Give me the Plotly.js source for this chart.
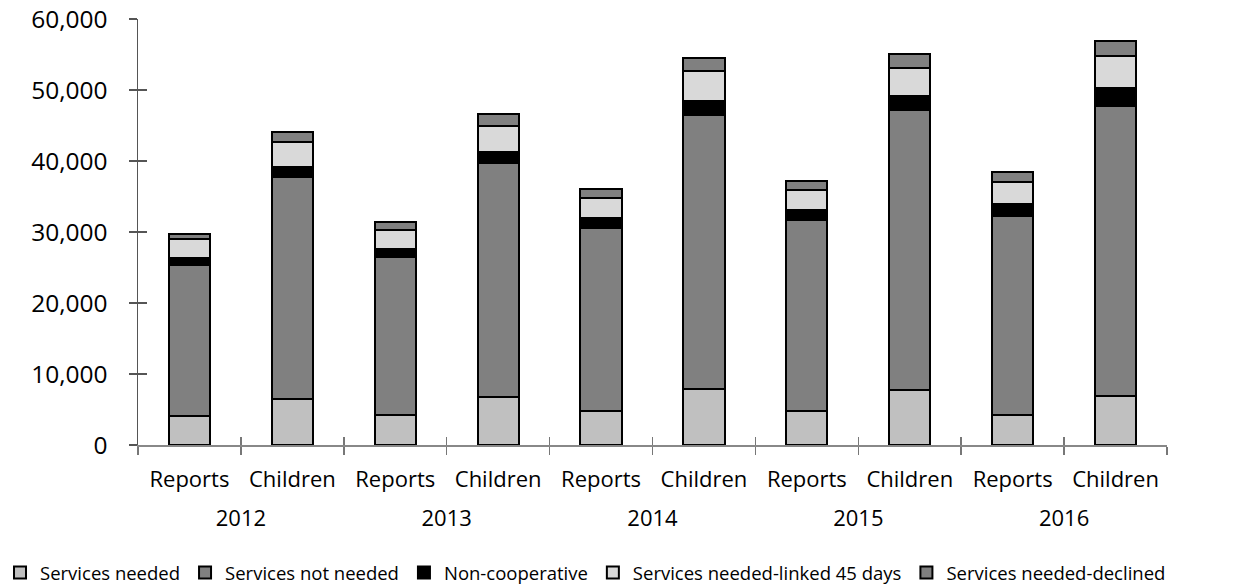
<!DOCTYPE html>
<html>
<head>
<meta charset="utf-8">
<script src="https://cdn.plot.ly/plotly-3.0.1.min.js"></script>
<style>
  html, body { margin: 0; padding: 0; background: #fff; }
  #chart { width: 1233px; height: 586px; }
</style>
</head>
<body>
<div id="chart"></div>
<script>
const years = ['2012','2012','2013','2013','2014','2014','2015','2015','2016','2016'];
const groups = ['Reports','Children','Reports','Children','Reports','Children','Reports','Children','Reports','Children'];
const yearLabels = ['2012','2013','2014','2015','2016'];
const servicesNeeded    = [4040, 6440, 4230, 6760, 4830, 7930, 4750, 7750, 4270, 6900];
const servicesNotNeeded = [21310, 31270, 22300, 33000, 25730, 38550, 26940, 39400, 27980, 40890];
const nonCooperative    = [1030, 1410, 1130, 1510, 1450, 2010, 1410, 1970, 1730, 2490];
const linked45          = [2590, 3520, 2590, 3710, 2820, 4230, 2770, 3980, 3100, 4510];
const declined          = [790, 1500, 1170, 1690, 1270, 1790, 1310, 1970, 1320, 2160];
const yTicks = [0, 10000, 20000, 30000, 40000, 50000, 60000];

const series = [
  {name: 'Services needed', y: servicesNeeded, color: '#c0c0c0'},
  {name: 'Services not needed', y: servicesNotNeeded, color: '#808080'},
  {name: 'Non-cooperative', y: nonCooperative, color: '#000000'},
  {name: 'Services needed-linked 45 days', y: linked45, color: '#d9d9d9'},
  {name: 'Services needed-declined', y: declined, color: '#808080'}
];

// unique category keys built from the year/group arrays
const cats = years.map((y, i) => y + ' ' + groups[i]);

const font = 'Open Sans, Lato, sans-serif';
const traces = series.map(s => ({
  type: 'bar',
  name: s.name,
  x: cats,
  y: s.y,
  marker: {color: s.color, line: {color: '#000', width: 2}},
  hoverinfo: 'skip'
}));
// empty helper traces so the overlay axes (crossing ticks, year row) get drawn
traces.push({type: 'scatter', x: [], y: [], xaxis: 'x2', yaxis: 'y', showlegend: false, hoverinfo: 'skip'});
traces.push({type: 'scatter', x: [], y: [], xaxis: 'x3', yaxis: 'y', showlegend: false, hoverinfo: 'skip'});
traces.push({type: 'scatter', x: [], y: [], xaxis: 'x', yaxis: 'y2', showlegend: false, hoverinfo: 'skip'});

const boundaries = [];
for (let i = 0; i <= groups.length; i++) boundaries.push(i - 0.5);
const yearPos = yearLabels.map((_, i) => 2 * i + 0.5);

const layout = {
  width: 1233, height: 586,
  margin: {l: 138, r: 66, t: 19, b: 141, autoexpand: false},
  paper_bgcolor: '#fff', plot_bgcolor: '#fff',
  barmode: 'stack',
  bargap: 0.6,
  showlegend: true,
  font: {family: font, color: '#000'},
  xaxis: {
    type: 'category', automargin: false,
    range: [-0.5, 9.5],
    tickmode: 'array', tickvals: cats, ticktext: groups,
    tickson: 'boundaries',
    ticks: 'outside', ticklen: 8, tickcolor: '#777', tickwidth: 1.5,
    ticklabelstandoff: 14,
    showline: true, linecolor: '#888', linewidth: 1.5,
    showgrid: false, zeroline: false,
    tickfont: {family: font, size: 22, color: '#000'}
  },
  xaxis2: {
    overlaying: 'x', anchor: 'y', automargin: false,
    range: [-0.5, 9.5],
    tickmode: 'array', tickvals: boundaries,
    ticks: 'inside', ticklen: 8, tickcolor: '#777', tickwidth: 1.5,
    showticklabels: false, showline: false, showgrid: false, zeroline: false
  },
  xaxis3: {
    overlaying: 'x', anchor: 'y', side: 'bottom', automargin: false,
    range: [-0.5, 9.5],
    tickmode: 'array', tickvals: yearPos, ticktext: yearLabels,
    ticks: '', ticklabelstandoff: 58,
    showline: false, showgrid: false, zeroline: false,
    tickfont: {family: font, size: 22, color: '#000'}
  },
  yaxis: {
    automargin: false,
    range: [0, 60000],
    tickmode: 'array', tickvals: yTicks, tickformat: ',',
    ticks: 'outside', ticklen: 8, tickcolor: '#555', tickwidth: 1.5,
    ticklabelstandoff: 16,
    showline: true, linecolor: '#555', linewidth: 1.5,
    showgrid: false, zeroline: false,
    tickfont: {family: font, size: 24.5, color: '#000'}
  },
  yaxis2: {
    overlaying: 'y', anchor: 'x', side: 'left', automargin: false,
    range: [0, 60000],
    tickmode: 'array', tickvals: yTicks,
    ticks: 'inside', ticklen: 9, tickcolor: '#555', tickwidth: 1.5,
    showticklabels: false, showline: false, showgrid: false, zeroline: false
  },
  legend: {
    orientation: 'h',
    x: -0.1341, y: -0.3005, xanchor: 'left', yanchor: 'middle',
    font: {family: font, size: 18.5, color: '#000'},
    itemwidth: 30,
    traceorder: 'normal'
  }
};

Plotly.newPlot('chart', traces, layout, {displayModeBar: false, staticPlot: true});
</script>
</body>
</html>
